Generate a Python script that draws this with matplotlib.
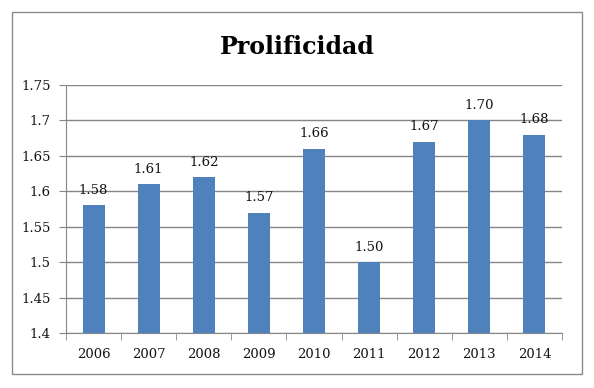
import matplotlib
matplotlib.use("Agg")
import matplotlib.pyplot as plt
from matplotlib.patches import Rectangle

years = ["2006", "2007", "2008", "2009", "2010", "2011", "2012", "2013", "2014"]
values = [1.58, 1.61, 1.62, 1.57, 1.66, 1.50, 1.67, 1.70, 1.68]
yticks = [1.4, 1.45, 1.5, 1.55, 1.6, 1.65, 1.7, 1.75]
ytick_labels = ["1.4", "1.45", "1.5", "1.55", "1.6", "1.65", "1.7", "1.75"]

plt.rcParams['font.family'] = ['DejaVu Serif']
fig = plt.figure(figsize=(5.94, 3.88), dpi=100)
ax = fig.add_axes([66/594, 1-333/388, (562-66)/594, (333-85)/388])

x = list(range(len(years)))
ax.bar(x, values, width=0.4, color="#4F81BD", zorder=3)
for xi, v in zip(x, values):
    ax.annotate(f"{v:.2f}", (xi, v), xytext=(0, 6), textcoords="offset points",
                ha="center", va="bottom", fontsize=9.5, color="#111111")

ax.set_ylim(1.4, 1.75)
ax.set_xlim(-0.5, len(years) - 0.5)
ax.set_yticks(yticks)
ax.set_yticklabels(ytick_labels, fontsize=9.5, color="#111111")
ax.set_xticks(x)
ax.set_xticklabels(years, fontsize=9.5, color="#111111")
ax.tick_params(axis="x", length=0, pad=11)
ax.set_xticks([i - 0.5 for i in range(len(years) + 1)], minor=True)
ax.tick_params(axis="x", which="minor", length=5, color="#868686", direction="out")
ax.tick_params(axis="y", length=5, color="#868686", direction="out", pad=6)
ax.grid(axis="y", color="#868686", linewidth=1, zorder=0)
for s in ["top", "right"]:
    ax.spines[s].set_visible(False)
for s in ["left", "bottom"]:
    ax.spines[s].set_color("#868686")

fig.text(0.5, 1 - 47/388, "Prolificidad", ha="center", va="center",
         fontsize=17, fontweight="bold")
fig.patches.append(Rectangle((12/594, 1-374/388), 570/594, 362/388,
                             transform=fig.transFigure, fill=False,
                             edgecolor="#8c8c8c", linewidth=1))
fig.savefig("out.png", dpi=100)
